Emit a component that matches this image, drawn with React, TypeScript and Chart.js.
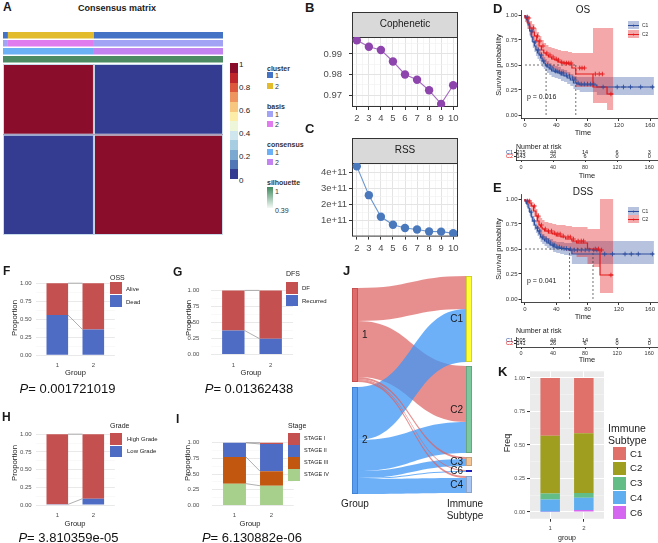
import React, { useEffect, useRef } from 'react';
import { Chart, registerables } from 'chart.js';

Chart.register(...registerables);

const FONT = '"Liberation Sans", Arial, Helvetica, sans-serif';
Chart.defaults.font.family = FONT;

// ================= DATA =================
// Panel A – consensus matrix (sample index space)
const consensusBounds = [0, 148, 358];
const consensusValues = [[1, 0], [0, 1]];
const annCluster = [[0, 8, 1], [8, 148, 2], [148, 358, 1]];
const annBasis = [[0, 8, 1], [8, 148, 2], [148, 358, 1]];
const annConsensus = [[0, 148, 1], [148, 358, 2]];
const annSilhouette = [[0, 358, 1]];
const annColors = [['#4472C4', '#E2BC2C'], ['#A3A3F6', '#E17CEF'], ['#6CB1F5', '#C384F1'], ['#4D8B64']];
const heatPalette = ['#8B0D2C', '#BE262C', '#DC573C', '#EE955F', '#F8C77F', '#FCEEA8', '#EEF6DA', '#D0E6EF', '#A7CDE3', '#7BA8D0', '#5277B6', '#343C91'];
const colorbarLabels = ['1', '0.8', '0.6', '0.4', '0.2', '0'];

// Panels B / C – rank survey
const rankK = [2, 3, 4, 5, 6, 7, 8, 9, 10];
const cophenetic = [0.9966, 0.9935, 0.9919, 0.9863, 0.98, 0.9774, 0.9723, 0.9657, 0.9748];
const rss = [4.4e11, 2.6e11, 1.25e11, 0.75e11, 0.55e11, 0.45e11, 0.33e11, 0.32e11, 0.22e11];
const cophMajor = [0.97, 0.98, 0.99];
const cophMinor = [0.965, 0.975, 0.985, 0.995];
const rssMajor = [1e11, 2e11, 3e11, 4e11];
const rssMinor = [0.5e11, 1.5e11, 2.5e11, 3.5e11, 4.5e11];

// Panels D / E – Kaplan–Meier
const kmTicks = [0, 40, 80, 120, 160];
const survTicks = [0, 0.25, 0.5, 0.75, 1];
const osT1 = [0, 2, 4, 6, 8, 10, 12, 14, 16, 18, 20, 22, 24, 26, 28, 31, 34, 38, 42, 46, 50, 54, 58, 62, 66, 70, 92, 96, 165];
const osS1 = [1, 0.98, 0.95, 0.9, 0.84, 0.78, 0.73, 0.69, 0.65, 0.62, 0.6, 0.57, 0.54, 0.52, 0.5, 0.48, 0.46, 0.44, 0.43, 0.42, 0.4, 0.39, 0.37, 0.35, 0.32, 0.31, 0.3, 0.28, 0.28];
const osU1 = [1, 1, 0.98, 0.94, 0.89, 0.83, 0.79, 0.75, 0.71, 0.68, 0.66, 0.63, 0.6, 0.58, 0.56, 0.54, 0.52, 0.5, 0.49, 0.48, 0.46, 0.45, 0.43, 0.41, 0.39, 0.38, 0.38, 0.38, 0.38];
const osL1 = [1, 0.96, 0.92, 0.86, 0.79, 0.73, 0.67, 0.63, 0.59, 0.56, 0.54, 0.51, 0.48, 0.46, 0.44, 0.42, 0.4, 0.38, 0.37, 0.36, 0.34, 0.33, 0.31, 0.29, 0.26, 0.25, 0.23, 0.2, 0.2];
const osT2 = [0, 3, 6, 9, 12, 15, 18, 21, 24, 27, 30, 34, 38, 42, 46, 50, 55, 60, 65, 87, 105, 108, 113];
const osS2 = [1, 0.97, 0.92, 0.87, 0.83, 0.79, 0.74, 0.69, 0.65, 0.62, 0.6, 0.58, 0.56, 0.55, 0.53, 0.52, 0.52, 0.51, 0.47, 0.41, 0.28, 0.21, 0.21];
const osU2 = [1, 1, 0.98, 0.94, 0.91, 0.87, 0.83, 0.79, 0.75, 0.72, 0.7, 0.68, 0.67, 0.66, 0.65, 0.64, 0.64, 0.63, 0.62, 0.62, 0.87, 0.87, 0.87];
const osL2 = [1, 0.93, 0.86, 0.8, 0.75, 0.71, 0.65, 0.6, 0.56, 0.53, 0.51, 0.49, 0.47, 0.45, 0.43, 0.42, 0.41, 0.4, 0.35, 0.28, 0.12, 0.05, 0.05];
const osCens1 = [3, 9, 13, 17, 21, 24, 29, 33, 36, 39, 41, 44, 47, 49, 53, 57, 61, 64, 68, 72, 76, 80, 84, 88, 100, 118, 126, 135, 148, 163];
const osCens2 = [5, 11, 16, 19, 23, 28, 32, 36, 40, 43, 47, 50, 53, 56, 59, 70, 73, 76, 90, 95, 99, 110];
const osMedians = [27, 65];

const dssT1 = [0, 2, 4, 6, 8, 10, 12, 14, 16, 18, 20, 22, 25, 28, 32, 36, 40, 45, 50, 56, 60, 96, 165];
const dssS1 = [1, 0.98, 0.95, 0.91, 0.87, 0.82, 0.78, 0.74, 0.71, 0.68, 0.65, 0.62, 0.6, 0.58, 0.56, 0.54, 0.52, 0.51, 0.505, 0.5, 0.49, 0.45, 0.45];
const dssU1 = [1, 1, 0.98, 0.95, 0.91, 0.87, 0.83, 0.79, 0.76, 0.73, 0.7, 0.67, 0.65, 0.63, 0.61, 0.6, 0.58, 0.57, 0.57, 0.56, 0.56, 0.58, 0.58];
const dssL1 = [1, 0.96, 0.92, 0.87, 0.83, 0.77, 0.73, 0.69, 0.66, 0.63, 0.6, 0.57, 0.55, 0.53, 0.51, 0.49, 0.47, 0.46, 0.45, 0.44, 0.43, 0.35, 0.35];
const dssT2 = [0, 5, 8, 11, 14, 16, 18, 20, 22, 25, 30, 35, 40, 46, 52, 60, 66, 80, 87, 96, 106, 113];
const dssS2 = [1, 0.98, 0.96, 0.93, 0.88, 0.83, 0.78, 0.74, 0.72, 0.7, 0.68, 0.66, 0.65, 0.63, 0.62, 0.6, 0.58, 0.56, 0.5, 0.49, 0.24, 0.24];
const dssU2 = [1, 1, 0.99, 0.97, 0.94, 0.9, 0.86, 0.83, 0.81, 0.79, 0.77, 0.76, 0.75, 0.74, 0.74, 0.73, 0.72, 0.72, 0.7, 0.7, 1, 1];
const dssL2 = [1, 0.95, 0.92, 0.88, 0.82, 0.76, 0.7, 0.66, 0.63, 0.61, 0.59, 0.57, 0.55, 0.53, 0.51, 0.48, 0.45, 0.42, 0.35, 0.32, 0.06, 0.06];
const dssCens1 = [3, 8, 12, 16, 19, 23, 27, 30, 33, 36, 38, 41, 44, 47, 50, 53, 58, 63, 67, 72, 77, 82, 88, 92, 102, 112, 128, 136, 145, 163];
const dssCens2 = [6, 12, 17, 21, 26, 30, 34, 38, 42, 45, 49, 55, 58, 62, 68, 72, 75, 90, 94, 98, 110];
const dssMedians = [57, 87];

const riskLabels = ['C1', 'C2'];
const osRiskC1 = [215, 44, 14, 6, 3];
const osRiskC2 = [143, 26, 6, 0, 0];
const dssRiskC1 = [205, 44, 14, 6, 3];
const dssRiskC2 = [141, 26, 6, 0, 0];

// Panels F–I – proportions by group
const groupIds = [1, 2];
const propMajor = [0, 0.25, 0.5, 0.75, 1];
const propGrid = [0, 0.125, 0.25, 0.375, 0.5, 0.625, 0.75, 0.875, 1];
const ossDead = [0.557, 0.356];
const ossAlive = [0.443, 0.644];
const dfsRecurred = [0.374, 0.247];
const dfsDF = [0.626, 0.753];
const gradeLow = [0.01, 0.09];
const gradeHigh = [0.99, 0.91];
const stageIV = [0.347, 0.315];
const stageIII = [0.426, 0.231];
const stageII = [0.227, 0.434];
const stageI = [0, 0.02];

// Panel J – alluvial (group -> immune subtype)
const jGroups = ['1', '2'];
const jSubtypes = ['C1', 'C2', 'C3', 'C6', 'C4'];
const jFlowG1 = [33, 56, 2, 1, 2];
const jFlowG2 = [53, 31, 7, 1, 15];

// Panel K – immune subtype frequency
const kC6 = [0.003, 0.015];
const kC4 = [0.091, 0.091];
const kC3 = [0.044, 0.037];
const kC2 = [0.432, 0.444];
const kC1 = [0.43, 0.413];

// ================= STYLE =================
const BAR_RED = '#C4504F';
const BAR_BLUE = '#4F6CC4';
const ST_ORANGE = '#C2570F';
const ST_GREEN = '#A8D08D';
const KM_BLUE = '#2E4E9E';
const KM_RED = '#E41A1C';
const KM_BLUE_BAND = 'rgba(46,80,160,0.35)';
const KM_RED_BAND = 'rgba(228,26,28,0.38)';
const K_COLORS = { C1: '#E0706A', C2: '#A09E1E', C3: '#63BD86', C4: '#5EAEF0', C6: '#D566F0' };
const J_GROUP_FILL = ['#E06B6B', '#5A9EF0'];
const J_GROUP_STROKE = ['#C24C4C', '#3C7FD2'];
const J_FLOW = ['rgba(221,96,96,0.7)', 'rgba(60,150,245,0.75)'];
const J_SUB_FILL = ['#FFFF33', '#7CC99D', '#F6C594', '#2323E0', '#A7C6F5'];
const J_LAYER = [[0, 0, 2, 2, 2], [1, 1, 1, 1, 1]];
const J_LEFT_X = [12, 18];
const J_RIGHT_X = [126, 132];
const J_LEFT_Y0 = 18;
const J_LEFT_GAP = 5;
const J_RIGHT_Y0 = 6;
const J_RIGHT_GAP = 4;

// ================= HELPERS =================
const heatColor = (v: number) => heatPalette[Math.round((1 - v) * (heatPalette.length - 1))];
const sum = (a: number[]) => a.reduce((s, v) => s + v, 0);
const survAt = (t: number[], s: number[], x: number) => {
  let v = s[0];
  for (let i = 0; i < t.length; i++) if (t[i] <= x) v = s[i];
  return v;
};

function baseOpts(padding: any) {
  return {
    animation: false,
    responsive: false,
    devicePixelRatio: 1,
    events: [],
    layout: { padding, autoPadding: false },
    plugins: { legend: { display: false }, tooltip: { enabled: false }, title: { display: false } },
  };
}

function mmAxis(o: any) {
  const isMajor = (v: number) => o.major.some((m: number) => Math.abs(m - v) <= Math.abs(m) * 1e-9 + 1e-12);
  return {
    type: 'linear',
    min: o.min,
    max: o.max,
    reverse: !!o.reverse,
    offset: false,
    stacked: !!o.stacked,
    afterBuildTicks: (s: any) => {
      s.ticks = o.all.map((v: number) => ({ value: v }));
    },
    afterFit: (s: any) => {
      if (o.axis === 'y') s.width = o.size;
      else s.height = o.size;
    },
    ticks: {
      autoSkip: false,
      maxRotation: 0,
      minRotation: 0,
      padding: o.pad,
      font: { size: o.font, family: FONT },
      color: o.color || '#4D4D4D',
      callback: (v: number) => (isMajor(v) ? o.fmt(v) : ''),
    },
    grid: {
      display: true,
      drawOnChartArea: o.gridOn !== false,
      offset: false,
      color: (c: any) => (c.tick && isMajor(c.tick.value) ? o.gridMajor : o.gridMinor) || 'rgba(0,0,0,0)',
      lineWidth: (c: any) => (c.tick && isMajor(c.tick.value) ? (o.wMajor ?? 1) : (o.wMinor ?? 0.5)),
      drawTicks: o.tickLen > 0,
      tickLength: o.tickLen || 0,
      tickWidth: 1,
      tickColor: (c: any) => (c.tick && isMajor(c.tick.value) ? o.tickColor || '#333' : 'rgba(0,0,0,0)'),
    },
    border: { display: !!o.border, color: '#1A1A1A', width: 0.8 },
  };
}

// ================= PLUGINS =================
const heatPlugin = {
  id: 'heat',
  afterDraw(chart: any) {
    const { ctx, chartArea: ca } = chart;
    const x = chart.scales.x;
    const y = chart.scales.y;
    ctx.save();
    for (let i = 0; i < consensusValues.length; i++) {
      for (let j = 0; j < consensusValues[i].length; j++) {
        const x0 = x.getPixelForValue(consensusBounds[j]);
        const x1 = x.getPixelForValue(consensusBounds[j + 1]);
        const y0 = y.getPixelForValue(consensusBounds[i]);
        const y1 = y.getPixelForValue(consensusBounds[i + 1]);
        ctx.fillStyle = heatColor(consensusValues[i][j]);
        ctx.fillRect(x0, y0, x1 - x0, y1 - y0);
        ctx.strokeStyle = '#C9DCEB';
        ctx.lineWidth = 1;
        ctx.strokeRect(x0 + 0.5, y0 + 0.5, x1 - x0 - 1, y1 - y0 - 1);
      }
    }
    const rows = [annCluster, annBasis, annConsensus, annSilhouette];
    rows.forEach((row, r) => {
      row.forEach(([s, e, k]) => {
        const x0 = x.getPixelForValue(s);
        const x1 = x.getPixelForValue(e);
        ctx.fillStyle = annColors[r][k - 1];
        ctx.fillRect(x0, ca.top - 32 + r * 8, x1 - x0, 6.5);
      });
    });
    ctx.restore();
  },
};

const stripPlugin = (label: string) => ({
  id: 'strip',
  beforeDatasetsDraw(chart: any) {
    const { ctx, chartArea: a } = chart;
    ctx.save();
    ctx.strokeStyle = '#333333';
    ctx.lineWidth = 1;
    ctx.strokeRect(a.left + 0.5, a.top + 0.5, a.right - a.left - 1, a.bottom - a.top - 1);
    ctx.fillStyle = '#D9D9D9';
    ctx.fillRect(a.left, a.top - 25, a.right - a.left, 25);
    ctx.strokeRect(a.left + 0.5, a.top - 25 + 0.5, a.right - a.left - 1, 25);
    ctx.fillStyle = '#1A1A1A';
    ctx.font = `10px ${FONT}`;
    ctx.textAlign = 'center';
    ctx.textBaseline = 'middle';
    ctx.fillText(label, (a.left + a.right) / 2, a.top - 12.5);
    ctx.restore();
  },
});

const connectorPlugin = {
  id: 'connectors',
  afterDatasetsDraw(chart: any) {
    const { ctx } = chart;
    const y = chart.scales.y;
    ctx.save();
    ctx.strokeStyle = '#9A9A9A';
    ctx.lineWidth = 0.8;
    let c1 = 0;
    let c2 = 0;
    chart.data.datasets.forEach((ds: any, i: number) => {
      c1 += ds.data[0].y;
      c2 += ds.data[1].y;
      const meta = chart.getDatasetMeta(i);
      const b1 = meta.data[0];
      const b2 = meta.data[1];
      ctx.beginPath();
      ctx.moveTo(b1.x + b1.width / 2, y.getPixelForValue(c1));
      ctx.lineTo(b2.x - b2.width / 2, y.getPixelForValue(c2));
      ctx.stroke();
    });
    ctx.restore();
  },
};

const grayPanel = {
  id: 'grayPanel',
  beforeDraw(chart: any) {
    const { ctx, chartArea: a } = chart;
    ctx.save();
    ctx.fillStyle = '#EBEBEB';
    ctx.fillRect(a.left, a.top, a.right - a.left, a.bottom - a.top);
    ctx.restore();
  },
};

const riskPlugin = (rows: number[][]) => ({
  id: 'risk',
  afterDraw(chart: any) {
    const { ctx } = chart;
    const x = chart.scales.x;
    const y = chart.scales.y;
    ctx.save();
    ctx.font = `5.5px ${FONT}`;
    ctx.textAlign = 'center';
    ctx.textBaseline = 'middle';
    ctx.fillStyle = '#222';
    rows.forEach((row, r) => {
      row.forEach((n, i) => ctx.fillText(String(n), x.getPixelForValue(kmTicks[i]), y.getPixelForValue(r + 1)));
    });
    ctx.restore();
  },
});

const sankeyPlugin = {
  id: 'sankey',
  afterDraw(chart: any) {
    const { ctx } = chart;
    const X = chart.scales.x;
    const Y = chart.scales.y;
    const flows = [jFlowG1, jFlowG2];
    const leftPos: number[][] = [];
    let cy = J_LEFT_Y0;
    jGroups.forEach((_, gi) => {
      const tot = sum(flows[gi]);
      leftPos.push([cy, cy + tot]);
      cy += tot + J_LEFT_GAP;
    });
    const rightPos: number[][] = [];
    cy = J_RIGHT_Y0;
    jSubtypes.forEach((_, si) => {
      const tot = flows.reduce((a, f) => a + f[si], 0);
      rightPos.push([cy, cy + tot]);
      cy += tot + J_RIGHT_GAP;
    });
    const ribbons: any[] = [];
    const rc = rightPos.map((p) => p[0]);
    jGroups.forEach((_, gi) => {
      let lc = leftPos[gi][0];
      jSubtypes.forEach((__, si) => {
        const v = flows[gi][si];
        ribbons.push({ gi, layer: J_LAYER[gi][si], l0: lc, l1: lc + v, r0: rc[si], r1: rc[si] + v });
        lc += v;
        rc[si] += v;
      });
    });
    const xl = X.getPixelForValue(J_LEFT_X[1]);
    const xr = X.getPixelForValue(J_RIGHT_X[0]);
    const xm = (xl + xr) / 2;
    ctx.save();
    [0, 1, 2].forEach((layer) => {
      ribbons
        .filter((r) => r.layer === layer)
        .forEach((r) => {
          const a0 = Y.getPixelForValue(r.l0);
          const a1 = Y.getPixelForValue(r.l1);
          const b0 = Y.getPixelForValue(r.r0);
          const b1 = Y.getPixelForValue(r.r1);
          ctx.beginPath();
          ctx.moveTo(xl, a0);
          ctx.bezierCurveTo(xm, a0, xm, b0, xr, b0);
          ctx.lineTo(xr, b1);
          ctx.bezierCurveTo(xm, b1, xm, a1, xl, a1);
          ctx.closePath();
          ctx.fillStyle = J_FLOW[r.gi];
          ctx.fill();
        });
    });
    // nodes
    const nx0 = X.getPixelForValue(J_LEFT_X[0]);
    const nx1 = X.getPixelForValue(J_LEFT_X[1]);
    leftPos.forEach(([s, e], gi) => {
      const y0 = Y.getPixelForValue(s);
      const y1 = Y.getPixelForValue(e);
      ctx.fillStyle = J_GROUP_FILL[gi];
      ctx.fillRect(nx0, y0, nx1 - nx0, y1 - y0);
      ctx.strokeStyle = J_GROUP_STROKE[gi];
      ctx.lineWidth = 0.8;
      ctx.strokeRect(nx0 + 0.4, y0 + 0.4, nx1 - nx0 - 0.8, y1 - y0 - 0.8);
    });
    const rx0 = X.getPixelForValue(J_RIGHT_X[0]);
    const rx1 = X.getPixelForValue(J_RIGHT_X[1]);
    rightPos.forEach(([s, e], si) => {
      const y0 = Y.getPixelForValue(s);
      const y1 = Y.getPixelForValue(e);
      ctx.fillStyle = J_SUB_FILL[si];
      ctx.fillRect(rx0, y0, rx1 - rx0, y1 - y0);
      ctx.strokeStyle = 'rgba(0,0,0,0.22)';
      ctx.lineWidth = 0.8;
      ctx.strokeRect(rx0 + 0.4, y0 + 0.4, rx1 - rx0 - 0.8, y1 - y0 - 0.8);
    });
    // labels
    ctx.fillStyle = '#1A1A1A';
    ctx.font = `10px ${FONT}`;
    ctx.textBaseline = 'middle';
    ctx.textAlign = 'left';
    leftPos.forEach(([s, e], gi) => ctx.fillText(jGroups[gi], X.getPixelForValue(J_LEFT_X[1] + 4), Y.getPixelForValue((s + e) / 2)));
    ctx.textAlign = 'right';
    rightPos.forEach(([s, e], si) => ctx.fillText(jSubtypes[si], X.getPixelForValue(J_RIGHT_X[0] - 3), Y.getPixelForValue((s + e) / 2) + 0.5));
    ctx.restore();
  },
};

// ================= CONFIG BUILDERS =================
function heatConfig() {
  return {
    type: 'scatter',
    data: { datasets: [] },
    options: {
      ...baseOpts({ left: 3, top: 34, right: 5, bottom: 5 }),
      scales: {
        x: { type: 'linear', min: consensusBounds[0], max: consensusBounds[consensusBounds.length - 1], display: false },
        y: { type: 'linear', min: consensusBounds[0], max: consensusBounds[consensusBounds.length - 1], reverse: true, display: false },
      },
    },
    plugins: [heatPlugin],
  };
}

const rankGrid = rankK.flatMap((k, i) => (i < rankK.length - 1 ? [k, k + 0.5] : [k]));

function rankConfig(values: number[], o: any) {
  return {
    type: 'line',
    data: {
      datasets: [
        {
          data: rankK.map((k, i) => ({ x: k, y: values[i] })),
          borderColor: o.line,
          borderWidth: 1.1,
          pointRadius: 4.2,
          pointBackgroundColor: o.point,
          pointBorderColor: o.point,
          pointBorderWidth: 0,
        },
      ],
    },
    options: {
      ...baseOpts({ left: 0, top: o.top, right: o.right, bottom: 0 }),
      scales: {
        x: mmAxis({ axis: 'x', min: 1.6, max: 10.4, all: rankGrid, major: rankK, fmt: (v: number) => String(v), font: 9.5, pad: 3, size: o.xh, gridMajor: '#E4E4E4', gridMinor: '#F0F0F0', wMajor: 1, wMinor: 0.6, tickLen: 3, tickColor: '#333' }),
        y: mmAxis({ axis: 'y', min: o.min, max: o.max, all: [...o.minor, ...o.major].sort((a: number, b: number) => a - b), major: o.major, fmt: o.fmt, font: 9.5, pad: o.ypad, size: o.yw, gridMajor: '#E4E4E4', gridMinor: '#F0F0F0', wMajor: 1, wMinor: 0.6, tickLen: 3, tickColor: '#333' }),
      },
    },
    plugins: [stripPlugin(o.strip)],
  };
}

function kmConfig(d: any, g: any) {
  const pts = (t: number[], v: number[]) => t.map((x, i) => ({ x, y: v[i] }));
  const line = (t: number[], v: number[], color: string) => ({ data: pts(t, v), stepped: 'after', borderColor: color, borderWidth: 1.2, pointRadius: 0, fill: false });
  const cens = (times: number[], t: number[], v: number[], color: string) => ({
    data: times.map((x) => ({ x, y: survAt(t, v, x) })),
    showLine: false,
    pointStyle: 'cross',
    pointRadius: 2.3,
    borderColor: color,
    backgroundColor: color,
    pointBorderWidth: 0.9,
  });
  const band = (t: number[], v: number[], color: string, fill: any) => ({ data: pts(t, v), stepped: 'after', borderWidth: 1, borderColor: 'rgba(0,0,0,0)', pointRadius: 0, fill, backgroundColor: color });
  const dot = (p: any[]) => ({ data: p, borderColor: '#333', borderWidth: 0.7, borderDash: [2, 2], pointRadius: 0, fill: false });
  return {
    type: 'line',
    data: {
      datasets: [
        cens(d.cens2, d.t2, d.s2, KM_RED),
        cens(d.cens1, d.t1, d.s1, KM_BLUE),
        line(d.t2, d.s2, KM_RED),
        line(d.t1, d.s1, KM_BLUE),
        dot([{ x: 0, y: 0.5 }, { x: d.med[1], y: 0.5 }]),
        dot([{ x: d.med[0], y: 0.5 }, { x: d.med[0], y: 0 }]),
        dot([{ x: d.med[1], y: 0.5 }, { x: d.med[1], y: 0 }]),
        band(d.t2, d.l2, 'rgba(0,0,0,0)', false),
        band(d.t2, d.u2, KM_RED_BAND, '-1'),
        band(d.t1, d.l1, 'rgba(0,0,0,0)', false),
        band(d.t1, d.u1, KM_BLUE_BAND, '-1'),
      ],
    },
    options: {
      ...baseOpts({ left: 0, top: g.top, right: 0, bottom: 0 }),
      scales: {
        x: mmAxis({ axis: 'x', min: -5.1, max: 170.2, all: kmTicks, major: kmTicks, fmt: (v: number) => String(v), font: 6, pad: 1, size: g.xh, gridOn: false, tickLen: 2.5, tickColor: '#333', border: true, color: '#333' }),
        y: mmAxis({ axis: 'y', min: -0.035, max: 1.05, all: survTicks, major: survTicks, fmt: (v: number) => v.toFixed(2), font: 6, pad: 1, size: 31, gridOn: false, tickLen: 2.5, tickColor: '#333', border: true, color: '#333' }),
      },
    },
  };
}

function riskConfig(rows: number[][], g: any) {
  return {
    type: 'scatter',
    data: { datasets: [] },
    options: {
      ...baseOpts({ left: 0, top: g.top, right: 0, bottom: 0 }),
      scales: {
        x: mmAxis({ axis: 'x', min: -6.25, max: 171, all: kmTicks, major: kmTicks, fmt: (v: number) => String(v), font: 5.5, pad: g.xpad, size: g.xh, gridOn: false, tickLen: 2, tickColor: '#333', border: true, color: '#333' }),
        y: {
          type: 'linear',
          min: 0,
          max: 3,
          reverse: true,
          afterBuildTicks: (s: any) => {
            s.ticks = riskLabels.map((_, i) => ({ value: i + 1 }));
          },
          afterFit: (s: any) => {
            s.width = 26;
          },
          ticks: { padding: 1, font: { size: 5.5, family: FONT }, color: (c: any) => (c.index === 0 ? KM_BLUE : KM_RED), callback: (_v: any, i: number) => riskLabels[i] },
          grid: { drawOnChartArea: false, tickLength: 2, color: '#333' },
          border: { display: true, color: '#1A1A1A', width: 0.8 },
        },
      },
    },
    plugins: [riskPlugin(rows)],
  };
}

function propBarConfig(series: number[][], colors: string[], g: any) {
  const gray = !!g.gray;
  return {
    type: 'bar',
    data: {
      datasets: series.map((vals, i) => ({
        data: vals.map((v, j) => ({ x: groupIds[j], y: v })),
        backgroundColor: colors[i],
        borderWidth: 0,
        barPercentage: g.barPct,
        categoryPercentage: 1,
      })),
    },
    options: {
      ...baseOpts({ left: 0, top: g.top, right: g.right, bottom: 0 }),
      scales: {
        x: {
          type: 'linear',
          min: 0.4,
          max: 2.6,
          offset: false,
          stacked: true,
          afterBuildTicks: (s: any) => {
            s.ticks = groupIds.map((v) => ({ value: v }));
          },
          afterFit: (s: any) => {
            s.height = g.xh;
          },
          ticks: { padding: g.xpad, font: { size: g.xfont || 6, family: FONT }, color: '#4D4D4D', autoSkip: false, maxRotation: 0, callback: (v: number) => String(v) },
          grid: { display: true, drawOnChartArea: gray, offset: false, color: gray ? '#FFFFFF' : 'rgba(0,0,0,0)', lineWidth: 1, drawTicks: gray, tickLength: 3, tickColor: '#333' },
          border: { display: false },
        },
        y: mmAxis({
          axis: 'y',
          min: -0.05,
          max: 1.05,
          stacked: true,
          all: propGrid,
          major: propMajor,
          fmt: (v: number) => v.toFixed(2),
          font: g.yfont || 6,
          pad: g.ypad,
          size: g.yw,
          gridMajor: gray ? '#FFFFFF' : '#E6E6E6',
          gridMinor: gray ? '#F7F7F7' : '#F2F2F2',
          wMajor: gray ? 1.1 : 0.9,
          wMinor: 0.5,
          tickLen: gray ? 3 : 0,
          tickColor: '#333',
        }),
      },
    },
    plugins: gray ? [grayPanel] : [connectorPlugin],
  };
}

// ================= COMPONENTS =================
function ChartBox({ x, y, w, h, make }: any) {
  const ref = useRef<HTMLCanvasElement | null>(null);
  useEffect(() => {
    const ch = new Chart(ref.current as HTMLCanvasElement, make());
    return () => ch.destroy();
  }, []);
  return <canvas ref={ref} width={w} height={h} style={{ position: 'absolute', left: x, top: y, width: w, height: h }} />;
}

function Txt({ x, y, s = 8, b = false, a = 'l', c = '#1A1A1A', rot = false, children }: any) {
  const tx = a === 'l' ? '0' : a === 'c' ? '-50%' : '-100%';
  return (
    <div
      style={{
        position: 'absolute',
        left: x,
        top: y,
        fontSize: s,
        fontWeight: b ? 'bold' : 'normal',
        color: c,
        fontFamily: FONT,
        lineHeight: 1,
        whiteSpace: 'nowrap',
        transform: rot ? 'translate(-50%,-50%) rotate(-90deg)' : `translate(${tx},-50%)`,
      }}
    >
      {children}
    </div>
  );
}

function Box({ x, y, w, h, c }: any) {
  return <div style={{ position: 'absolute', left: x, top: y, width: w, height: h, background: c }} />;
}

function KmKey({ x, y, color, band, label }: any) {
  return (
    <>
      <Box x={x} y={y - 4} w={11} h={8} c={band} />
      <Box x={x} y={y - 0.5} w={11} h={1} c={color} />
      <Txt x={x + 5.5} y={y} s={6} a="c" c={color}>+</Txt>
      <Txt x={x + 14} y={y} s={5} c="#333">{label}</Txt>
    </>
  );
}

function PVal({ x, y, text }: any) {
  return (
    <Txt x={x} y={y} s={13} a="c" c="#111">
      <span style={{ fontStyle: 'italic' }}>P</span>= {text}
    </Txt>
  );
}

const osData = { t1: osT1, s1: osS1, u1: osU1, l1: osL1, t2: osT2, s2: osS2, u2: osU2, l2: osL2, cens1: osCens1, cens2: osCens2, med: osMedians };
const dssData = { t1: dssT1, s1: dssS1, u1: dssU1, l1: dssL1, t2: dssT2, s2: dssS2, u2: dssU2, l2: dssL2, cens1: dssCens1, cens2: dssCens2, med: dssMedians };

export default function App() {
  const annLegend = [
    { name: 'cluster', ty: 67.5, items: [75, 85.5], colors: annColors[0] },
    { name: 'basis', ty: 106, items: [114, 124], colors: annColors[1] },
    { name: 'consensus', ty: 144, items: [152, 162], colors: annColors[2] },
  ];
  const cbTop = 63.3;
  const cbH = 115.7;
  return (
    <div style={{ position: 'fixed', left: 0, top: 0, width: 658, height: 543, background: '#FFFFFF', overflow: 'hidden' }}>
      {/* ---- charts ---- */}
      <ChartBox x={0} y={30} w={228} h={210} make={heatConfig} />
      <ChartBox
        x={322}
        y={10}
        w={140}
        h={118}
        make={() => rankConfig(cophenetic, { top: 27, right: 4, xh: 21, yw: 30, ypad: 7, min: 0.9642, max: 0.9982, major: cophMajor, minor: cophMinor, fmt: (v: number) => v.toFixed(2), line: '#A46BBE', point: '#8E44AD', strip: 'Cophenetic' })}
      />
      <ChartBox
        x={305}
        y={133}
        w={157}
        h={125}
        make={() => rankConfig(rss, { top: 30, right: 4, xh: 21.4, yw: 47, ypad: 2, min: 0.011e11, max: 4.609e11, major: rssMajor, minor: rssMinor, fmt: (v: number) => `${Math.round(v / 1e11)}e+11`, line: '#6B96CF', point: '#4A78BD', strip: 'RSS' })}
      />
      <ChartBox x={490} y={0} w={168} h={130} make={() => kmConfig(osData, { top: 10, xh: 11.5 })} />
      <ChartBox x={490} y={184} w={168} h={130} make={() => kmConfig(dssData, { top: 10, xh: 11.5 })} />
      <ChartBox x={490} y={145} w={168} h={38} make={() => riskConfig([osRiskC1, osRiskC2], { top: 3, xh: 23, xpad: 2 })} />
      <ChartBox x={490} y={333} w={168} h={38} make={() => riskConfig([dssRiskC1, dssRiskC2], { top: 3, xh: 24, xpad: 1.3 })} />
      <ChartBox x={0} y={272} w={116} h={108} make={() => propBarConfig([ossDead, ossAlive], [BAR_BLUE, BAR_RED], { top: 6.3, right: 1.1, xh: 21.3, yw: 35.7, ypad: 4, xpad: 2.7, barPct: 0.6 })} />
      <ChartBox x={170} y={272} w={126} h={108} make={() => propBarConfig([dfsRecurred, dfsDF], [BAR_BLUE, BAR_RED], { top: 5.35, right: 2.9, xh: 22.35, yw: 40.9, ypad: 11.6, xpad: 3.75, barPct: 0.6 })} />
      <ChartBox x={0} y={423} w={116} h={108} make={() => propBarConfig([gradeLow, gradeHigh], [BAR_BLUE, BAR_RED], { top: 6.4, right: 1.1, xh: 22.4, yw: 35.7, ypad: 4, xpad: 2.8, barPct: 0.6 })} />
      <ChartBox x={170} y={423} w={126} h={108} make={() => propBarConfig([stageIV, stageIII, stageII, stageI], [ST_GREEN, ST_ORANGE, BAR_BLUE, BAR_RED], { top: 6.4, right: 2.3, xh: 22.4, yw: 42.3, ypad: 13, xpad: 2.8, barPct: 0.62 })} />
      <ChartBox
        x={340}
        y={270}
        w={140}
        h={230}
        make={() => ({
          type: 'scatter',
          data: { datasets: [] },
          options: { ...baseOpts({ left: 0, top: 0, right: 0, bottom: 0 }), scales: { x: { type: 'linear', min: 0, max: 140, display: false }, y: { type: 'linear', min: 0, max: 230, reverse: true, display: false } } },
          plugins: [sankeyPlugin],
        })}
      />
      <ChartBox
        x={500}
        y={366}
        w={108}
        h={177}
        make={() => propBarConfig([kC6, kC4, kC3, kC2, kC1], [K_COLORS.C6, K_COLORS.C4, K_COLORS.C3, K_COLORS.C2, K_COLORS.C1], { gray: true, top: 4.25, right: 4, xh: 24.25, yw: 30, ypad: 2, xpad: 2.6, barPct: 0.58, yfont: 5.5, xfont: 6 })}
      />

      {/* ---- Panel A text & legends ---- */}
      <Txt x={3} y={7} s={12} b>A</Txt>
      <Txt x={117} y={8} s={9} b a="c">Consensus matrix</Txt>
      {heatPalette.map((c, i) => (
        <Box key={i} x={230} y={cbTop + (i * cbH) / heatPalette.length} w={7.5} h={cbH / heatPalette.length + 0.3} c={c} />
      ))}
      {colorbarLabels.map((l, i) => (
        <Txt key={l} x={239} y={cbTop + 1.5 + (i * cbH) / (colorbarLabels.length - 1)} s={8} c="#222">{l}</Txt>
      ))}
      {annLegend.map((g) => (
        <React.Fragment key={g.name}>
          <Txt x={267} y={g.ty} s={7} b c="#333">{g.name}</Txt>
          {g.items.map((yy, i) => (
            <React.Fragment key={i}>
              <Box x={267} y={yy - 3} w={6} h={6} c={g.colors[i]} />
              <Txt x={275} y={yy} s={7} c="#333">{String(i + 1)}</Txt>
            </React.Fragment>
          ))}
        </React.Fragment>
      ))}
      <Txt x={267} y={182} s={7} b c="#333">silhouette</Txt>
      <div style={{ position: 'absolute', left: 267, top: 187, width: 6, height: 21, background: 'linear-gradient(#3F8A5E, #F4F9F6)' }} />
      <Txt x={275} y={191} s={7} c="#333">1</Txt>
      <Txt x={275} y={210} s={7} c="#333">0.39</Txt>

      {/* ---- B / C ---- */}
      <Txt x={305} y={6.5} s={13} b>B</Txt>
      <Txt x={305} y={128} s={13} b>C</Txt>

      {/* ---- D ---- */}
      <Txt x={493} y={8} s={13} b>D</Txt>
      <Txt x={583} y={10} s={10} a="c">OS</Txt>
      <Txt x={499} y={65} s={7.3} rot c="#222">Survival probability</Txt>
      <Txt x={583} y={133} s={7.5} a="c" c="#222">Time</Txt>
      <Txt x={527} y={96} s={7} c="#222">p = 0.016</Txt>
      <KmKey x={628} y={25} color={KM_BLUE} band={KM_BLUE_BAND} label="C1" />
      <KmKey x={628} y={34} color={KM_RED} band={KM_RED_BAND} label="C2" />
      <Txt x={516} y={146} s={7} c="#222">Number at risk</Txt>
      <Txt x={587} y={176} s={7.5} a="c" c="#222">Time</Txt>

      {/* ---- E ---- */}
      <Txt x={493} y={187} s={13} b>E</Txt>
      <Txt x={583} y={192} s={10} a="c">DSS</Txt>
      <Txt x={499} y={249} s={7.3} rot c="#222">Survival probability</Txt>
      <Txt x={583} y={317} s={7.5} a="c" c="#222">Time</Txt>
      <Txt x={527} y={280} s={7} c="#222">p = 0.041</Txt>
      <KmKey x={628} y={211} color={KM_BLUE} band={KM_BLUE_BAND} label="C1" />
      <KmKey x={628} y={219} color={KM_RED} band={KM_RED_BAND} label="C2" />
      <Txt x={516} y={330} s={7} c="#222">Number at risk</Txt>
      <Txt x={587} y={359.5} s={7.5} a="c" c="#222">Time</Txt>

      {/* ---- F ---- */}
      <Txt x={3} y={271} s={12} b>F</Txt>
      <Txt x={15} y={318} s={7.8} rot c="#222">Proportion</Txt>
      <Txt x={75.5} y={373} s={7.5} a="c" c="#222">Group</Txt>
      <Txt x={110} y={277} s={7} c="#222">OSS</Txt>
      <Box x={110} y={282} w={12} h={12} c={BAR_RED} />
      <Box x={110} y={295} w={12} h={12} c={BAR_BLUE} />
      <Txt x={126} y={288.5} s={6} c="#222">Alive</Txt>
      <Txt x={126} y={301.5} s={6} c="#222">Dead</Txt>
      <PVal x={67.5} y={388} text="0.001721019" />

      {/* ---- G ---- */}
      <Txt x={173} y={272} s={12} b>G</Txt>
      <Txt x={188.5} y={318} s={7.8} rot c="#222">Proportion</Txt>
      <Txt x={251} y={373} s={7.5} a="c" c="#222">Group</Txt>
      <Txt x={286} y={273} s={7} c="#222">DFS</Txt>
      <Box x={286} y={282} w={12} h={11.5} c={BAR_RED} />
      <Box x={286} y={294.5} w={12} h={11.5} c={BAR_BLUE} />
      <Txt x={302} y={288} s={6} c="#222">DF</Txt>
      <Txt x={302} y={300.5} s={6} c="#222">Recurred</Txt>
      <PVal x={249} y={388} text="0.01362438" />

      {/* ---- H ---- */}
      <Txt x={2} y={417} s={12} b>H</Txt>
      <Txt x={15} y={463} s={7.8} rot c="#222">Proportion</Txt>
      <Txt x={75} y={524} s={7.5} a="c" c="#222">Group</Txt>
      <Txt x={110} y={425} s={7} c="#222">Grade</Txt>
      <Box x={110} y={433} w={12} h={11.5} c={BAR_RED} />
      <Box x={110} y={445.5} w={12} h={11.5} c={BAR_BLUE} />
      <Txt x={127} y={438.5} s={6} c="#222">High Grade</Txt>
      <Txt x={127} y={451} s={6} c="#222">Low Grade</Txt>
      <PVal x={68.5} y={537} text="3.810359e-05" />

      {/* ---- I ---- */}
      <Txt x={176} y={419} s={12} b>I</Txt>
      <Txt x={188} y={463} s={7.8} rot c="#222">Proportion</Txt>
      <Txt x={250} y={524} s={7.5} a="c" c="#222">Group</Txt>
      <Txt x={288} y={425} s={7} c="#222">Stage</Txt>
      {[BAR_RED, BAR_BLUE, ST_ORANGE, ST_GREEN].map((c, i) => (
        <Box key={c} x={288} y={433 + i * 12} w={12} h={11.5} c={c} />
      ))}
      {['STAGE I', 'STAGE II', 'STAGE III', 'STAGE IV'].map((l, i) => (
        <Txt key={l} x={304} y={439 + i * 12} s={5.5} c="#222">{l}</Txt>
      ))}
      <PVal x={252} y={537} text="6.130882e-06" />

      {/* ---- J ---- */}
      <Txt x={343} y={270} s={13} b>J</Txt>
      <Txt x={355} y={504} s={10} a="c" c="#222">Group</Txt>
      <Txt x={465} y={504} s={10} a="c" c="#222">Immune</Txt>
      <Txt x={465} y={516} s={10} a="c" c="#222">Subtype</Txt>

      {/* ---- K ---- */}
      <Txt x={498} y={371} s={13} b>K</Txt>
      <Txt x={507} y={443} s={9} rot c="#222">Freq</Txt>
      <Txt x={567} y={537} s={7} a="c" c="#222">group</Txt>
      <Txt x={608} y={428} s={10.5} c="#222">Immune</Txt>
      <Txt x={608} y={440} s={10.5} c="#222">Subtype</Txt>
      {(['C1', 'C2', 'C3', 'C4', 'C6'] as const).map((k, i) => (
        <React.Fragment key={k}>
          <Box x={613} y={447 + i * 14.8} w={13} h={13} c={K_COLORS[k]} />
          <Txt x={630} y={453.5 + i * 14.8} s={9.6} c="#222">{k}</Txt>
        </React.Fragment>
      ))}
    </div>
  );
}
